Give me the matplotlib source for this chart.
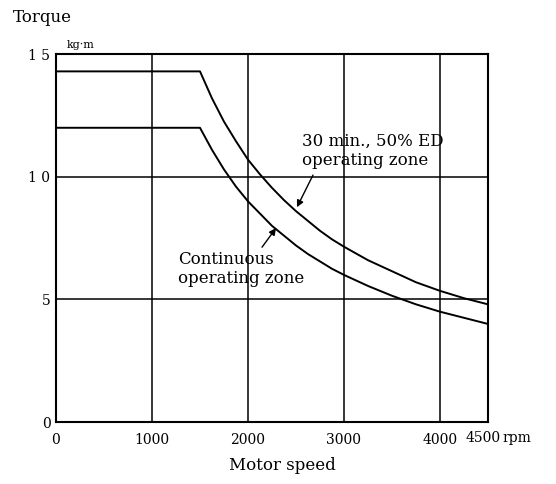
import matplotlib
matplotlib.use("Agg")
import matplotlib.pyplot as plt

# Data
rpm = [0, 1500, 1625, 1750, 1875, 2000, 2125, 2250, 2375, 2500, 2625, 2750, 2875,
       3000, 3250, 3500, 3750, 4000, 4250, 4500]
torque_30min = [14.3, 14.3, 13.2, 12.25, 11.45, 10.7, 10.1, 9.55, 9.05, 8.6, 8.2, 7.8, 7.45,
                7.15, 6.6, 6.15, 5.7, 5.35, 5.05, 4.8]
torque_cont = [12.0, 12.0, 11.1, 10.3, 9.6, 9.0, 8.5, 8.0, 7.6, 7.2, 6.85, 6.55, 6.25,
               6.0, 5.55, 5.15, 4.8, 4.5, 4.25, 4.0]
x_ticks = [0, 1000, 2000, 3000, 4000]
x_tick_labels = ["0", "1000", "2000", "3000", "4000"]
y_ticks = [0, 5, 10, 15]
y_tick_labels = ["0", "5", "1 0", "1 5"]

plt.rcParams['font.family'] = ['DejaVu Serif']

fig = plt.figure(figsize=(5.56, 4.84), dpi=100)
ax = fig.add_axes([0.1007, 0.128, 0.777, 0.760])
ax.set_xlim(0, 4500)
ax.set_ylim(0, 15)

# grid lines
for gx in [1000, 2000, 3000, 4000]:
    ax.axvline(gx, color='black', lw=1.1, zorder=1)
for gy in [5, 10]:
    ax.axhline(gy, color='black', lw=1.1, zorder=1)

ax.plot(rpm, torque_30min, color='black', lw=1.4, zorder=3)
ax.plot(rpm, torque_cont, color='black', lw=1.4, zorder=3)

for s in ax.spines.values():
    s.set_linewidth(1.5)
    s.set_color('black')

ax.set_xticks(x_ticks)
ax.set_xticklabels(x_tick_labels, fontsize=10)
ax.set_yticks(y_ticks)
ax.set_yticklabels(y_tick_labels, fontsize=10)
ax.tick_params(axis='x', length=0, pad=8)
ax.tick_params(axis='y', length=0, pad=4)

# 4500 rpm label
ax.text(4448, -0.65, "4500", ha='center', va='center', fontsize=10)
ax.text(4650, -0.65, "rpm", ha='left', va='center', fontsize=10)

# annotations
ax.text(2562, 11.05, "30 min., 50% ED\noperating zone", ha='left', va='center',
        fontsize=12, linespacing=1.15)
ax.text(1271, 6.24, "Continuous\noperating zone", ha='left', va='center',
        fontsize=12, linespacing=1.15)
ax.annotate("", xy=(2510, 8.76), xytext=(2677, 10.07),
            arrowprops=dict(arrowstyle='-|>', color='black', lw=1.0,
                            mutation_scale=10, shrinkA=0, shrinkB=0))
ax.annotate("", xy=(2292, 7.91), xytext=(2146, 7.13),
            arrowprops=dict(arrowstyle='-|>', color='black', lw=1.0,
                            mutation_scale=10, shrinkA=0, shrinkB=0))

fig.text(13 / 556, 1 - 18 / 484, "Torque", ha='left', va='center', fontsize=12)
fig.text(67 / 556, 1 - 45 / 484, "kg·m", ha='left', va='center', fontsize=8)
fig.text(282 / 556, 1 - 466 / 484, "Motor speed", ha='center', va='center', fontsize=12)

fig.savefig("out.png", dpi=100)
